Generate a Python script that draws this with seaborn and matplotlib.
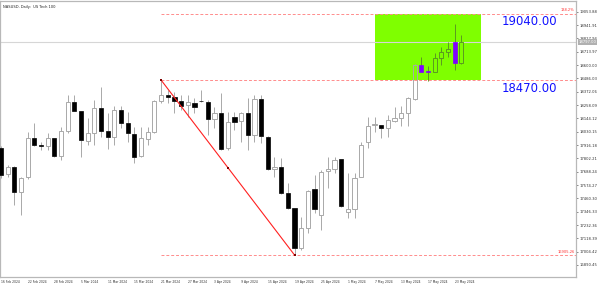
import numpy as np
import pandas as pd
import matplotlib
matplotlib.use("Agg")
import matplotlib.pyplot as plt
import seaborn as sns
from matplotlib.patches import Rectangle

# ---------------- data ----------------
dates = ["16 Feb 2024", "22 Feb 2024", "28 Feb 2024", "5 Mar 2024", "11 Mar 2024",
         "15 Mar 2024", "21 Mar 2024", "27 Mar 2024", "3 Apr 2024", "9 Apr 2024",
         "15 Apr 2024", "19 Apr 2024", "25 Apr 2024", "1 May 2024", "7 May 2024",
         "13 May 2024", "17 May 2024", "23 May 2024"]
date_bar_index = [0, 4, 8, 12, 16, 20, 24, 28, 32, 36, 40, 44, 48, 52, 56, 60, 64, 68]

opens = [17891, 17669, 17729, 17515, 17643, 17977, 17912, 17908, 17977, 17823,
         18037, 18284, 18208, 17951, 18019, 18233, 18037, 17985, 18216, 18105,
         18011, 17823, 17968, 18028, 18293, 18344, 18327, 18293, 18259, 18276,
         18293, 18284, 18139, 18190, 17891, 18156, 18122, 18190, 18002, 18310,
         17985, 17712, 17729, 17506, 17378, 17036, 17207, 17541, 17318, 17695,
         17712, 17797, 17344, 17370, 17643, 17942, 18085, 18088, 18062, 18122,
         18148, 18190, 18310, 18601, 18553, 18541, 18661, 18712, 18797, 18618]
highs = [17908, 17746, 17737, 17643, 18028, 18105, 17942, 18019, 17980, 18071,
         18344, 18344, 18210, 18148, 18302, 18413, 18190, 18250, 18250, 18199,
         18071, 18071, 18071, 18300, 18472, 18387, 18370, 18344, 18344, 18319,
         18387, 18302, 18242, 18361, 18199, 18199, 18199, 18319, 18344, 18344,
         17990, 17814, 17806, 17592, 17380, 17301, 17530, 17660, 17703, 17814,
         17814, 17800, 17677, 17677, 17942, 18156, 18156, 18090, 18173, 18242,
         18250, 18327, 18605, 18669, 18592, 18703, 18755, 18797, 18951, 18857]
lows = [17635, 17643, 17404, 17318, 17626, 17912, 17874, 17874, 17818, 17789,
        18019, 18205, 17814, 17917, 17917, 17985, 17883, 17917, 18062, 17942,
        17763, 17818, 17917, 18019, 18276, 18276, 18190, 18216, 18156, 18190,
        18284, 18002, 18062, 17874, 17874, 18045, 17942, 17874, 17942, 17934,
        17703, 17643, 17500, 17372, 16976, 17019, 17164, 17335, 17190, 17549,
        17677, 17387, 17293, 17293, 17640, 17891, 18028, 17977, 17985, 18113,
        18079, 18079, 18302, 18538, 18464, 18538, 18601, 18669, 18558, 18610]
closes = [17660, 17729, 17515, 17635, 17977, 17917, 17908, 17977, 17823, 18037,
          18284, 18208, 17960, 18019, 18233, 18037, 17985, 18216, 18105, 18019,
          17814, 17977, 18028, 18293, 18344, 18327, 18293, 18250, 18284, 18242,
          18290, 18139, 18190, 17883, 18113, 18113, 18190, 18002, 18310, 17994,
          17712, 17729, 17506, 17378, 17036, 17207, 17523, 17370, 17686, 17712,
          17789, 17395, 17370, 17635, 17917, 18079, 18088, 18062, 18130, 18148,
          18190, 18319, 18601, 18541, 18545, 18661, 18712, 18738, 18618, 18797]

y_ticks = [19053.88, 18941.91, 18827.94, 18713.97, 18600.00, 18486.03, 18372.06,
           18258.09, 18144.12, 18030.15, 17916.18, 17802.21, 17688.24, 17574.27,
           17460.30, 17346.33, 17232.36, 17118.39, 17004.42, 16890.45]

target_high = 19040.00
target_low = 18470.00
fib_label = "138.2%"
low_label = "16905.26"
box_start_bar = 56
box_end_bar = 72
trend_start_bar = 24
trend_end_bar = 44
title = "NASUSD, Daily:  US Tech 100"

df = pd.DataFrame({"open": opens, "high": highs, "low": lows, "close": closes})
df["i"] = np.arange(len(df))

# ---------------- figure ----------------
sns.set_theme(style="white")
plt.rcParams["font.family"] = ["DejaVu Sans"]

W, H = 598, 287
fig = plt.figure(figsize=(W / 100, H / 100), dpi=100)
ax = fig.add_axes([0 / W, (H - 277) / H, 576 / W, 276 / H])
ax.set_facecolor("white")

ax.set_xlim(-0.15, 86.2)
ax.set_ylim(16787.8, 19147.9)

# green target box
ax.add_patch(Rectangle((box_start_bar, target_low), box_end_bar - box_start_bar,
                       target_high - target_low, facecolor="#7fff00", edgecolor="none", zorder=1))

# current price line
ax.axhline(closes[-1], color="#d6d6d6", lw=0.8, zorder=1.5)

# candles
gray = "#a9a9a9"
body_w = 0.62
for _, r in df.iterrows():
    i = r["i"]
    o, h, l, c = r["open"], r["high"], r["low"], r["close"]
    top, bot = max(o, c), min(o, c)
    in_box = (box_start_bar <= i <= box_end_bar) and bot >= target_low - 20
    wick_col = "#5a9a20" if (box_start_bar <= i <= box_end_bar and l > target_low - 20) else gray
    ax.vlines(i, top, h, color=wick_col, lw=0.7, zorder=2)
    ax.vlines(i, l, bot, color=wick_col, lw=0.7, zorder=2)
    hgt = max(top - bot, 7)
    if c < o:
        fc = "#8000ff" if in_box else "black"
        ax.bar(i, hgt, bottom=bot, width=body_w, color=fc, edgecolor=fc, lw=0.5, zorder=3)
    else:
        ec = "#5a9a20" if in_box else gray
        ax.bar(i, hgt, bottom=bot, width=body_w, color="none", edgecolor=ec, lw=0.7, zorder=3)

# dashed levels
x0 = trend_start_bar
for lvl in [target_high, target_low, lows[trend_end_bar]]:
    ax.plot([x0, ax.get_xlim()[1]], [lvl, lvl], color="#ff8c8c", lw=0.7,
            dashes=(3, 2), zorder=4)

# trend line
tl = pd.DataFrame({"x": [trend_start_bar, trend_end_bar],
                   "y": [highs[trend_start_bar], lows[trend_end_bar]]})
sns.lineplot(data=tl, x="x", y="y", ax=ax, color="#ff2020", lw=0.8, zorder=5)
mid = pd.DataFrame({"x": [trend_start_bar, (trend_start_bar + trend_end_bar) / 2, trend_end_bar],
                    "y": [highs[trend_start_bar], (highs[trend_start_bar] + lows[trend_end_bar]) / 2,
                          lows[trend_end_bar]]})
sns.scatterplot(data=mid, x="x", y="y", ax=ax, color="#800000", s=2, marker="s",
                linewidth=0, zorder=6)

# level labels
xr = ax.get_xlim()[1] - 0.2
ax.text(xr, target_high + 12, fib_label, color="#ff3030", fontsize=2.6,
        ha="right", va="bottom", zorder=7)
ax.text(xr, lows[trend_end_bar] + 12, low_label, color="#ff3030", fontsize=2.6,
        ha="right", va="bottom", zorder=7)

ax.text(75.0, target_high - 70, f"{target_high:.2f}", color="#1010ff", fontsize=8.4,
        ha="left", va="center", zorder=7)
ax.text(75.0, target_low - 70, f"{target_low:.2f}", color="#1010ff", fontsize=8.4,
        ha="left", va="center", zorder=7)

# title
ax.text(0.005, 0.985, title, transform=ax.transAxes, fontsize=2.6, color="#202020",
        ha="left", va="top")

# axes styling
ax.yaxis.tick_right()
ax.set_yticks(y_ticks)
ax.set_yticklabels([f"{v:.2f}" for v in y_ticks], fontsize=2.7, color="#303030")
ax.tick_params(axis="y", length=1.5, width=0.4, pad=1, colors="#303030")
ax.set_xticks(date_bar_index)
ax.set_xticklabels(dates, fontsize=2.2, color="#303030", ha="left")
ax.tick_params(axis="x", length=1.0, width=0.4, pad=1.5)
ax.set_xlabel("")
ax.set_ylabel("")
for s in ax.spines.values():
    s.set_color("#b8b8b8")
    s.set_linewidth(0.9)

# current price tag
ax.annotate(f"{closes[-1]:.2f}", xy=(1.0, closes[-1]), xycoords=("axes fraction", "data"),
            xytext=(2, 0), textcoords="offset points", fontsize=2.7, color="white",
            va="center", ha="left", annotation_clip=False,
            bbox=dict(boxstyle="square,pad=0.15", fc="#b0b0b0", ec="none"))

fig.savefig("out.png", dpi=100)
